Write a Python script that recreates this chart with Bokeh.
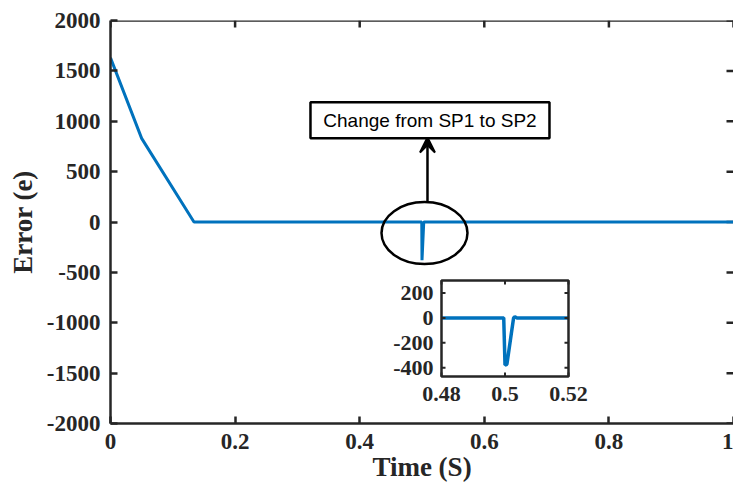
from bokeh.plotting import figure
from bokeh.models import (Range1d, FixedTicker, CustomJSTickFormatter, Arrow, VeeHead)
from bokeh.core.properties import value
from bokeh.embed import file_html
from bokeh.resources import INLINE

# ---- data -------------------------------------------------------------
# error signal of the controller over the whole run
time_s = [0.0, 0.05, 0.134, 0.4996, 0.5, 0.5028, 1.0]
error_e = [1630, 830, 0, 0, -380, 0, 0]

# close-up of the set-point change around t = 0.5 s
zoom_t = [0.48, 0.4996, 0.5, 0.5006, 0.5027, 0.5031, 0.5037, 0.52]
zoom_e = [0, 0, -378, -372, 0, 10, 0, 0]

x_ticks = [0, 0.2, 0.4, 0.6, 0.8, 1]
y_ticks = [-2000, -1500, -1000, -500, 0, 500, 1000, 1500, 2000]
zoom_x_ticks = [0.48, 0.5, 0.52]
zoom_y_ticks = [-400, -200, 0, 200]
zoom_x_lim = (0.48, 0.52)
zoom_y_lim = (-470, 300)

note_text = "Change from SP1 to SP2"

# ---- styling / layout -------------------------------------------------
BLUE = "#0072BD"
AXIS = "#262626"
SERIF = "Liberation Serif"
W, H = 733, 493
FL, FT, FB = 110, 20, 70          # borders: left, top, bottom
FRAME_W = W - FL
FRAME_H = H - FT - FB
X_LIM = (0, 1)
Y_LIM = (-2000, 2000)
# placement of the close-up axes, in page pixels
IN_L, IN_R, IN_T, IN_B = 441, 568, 280, 376

num_fmt = CustomJSTickFormatter(code="return String(Math.round(tick*1000)/1000);")

p = figure(width=W, height=H, x_range=Range1d(*X_LIM), y_range=Range1d(*Y_LIM),
           output_backend="svg", toolbar_location=None,
           min_border_left=FL, min_border_right=0, min_border_top=FT,
           min_border_bottom=FB)
p.outline_line_color = None
p.xgrid.visible = False
p.ygrid.visible = False
p.background_fill_color = "white"
p.border_fill_color = "white"

for ax, ticks in ((p.xaxis[0], x_ticks), (p.yaxis[0], y_ticks)):
    ax.ticker = FixedTicker(ticks=ticks)
    ax.formatter = num_fmt
    ax.major_tick_in = 7
    ax.major_tick_out = 0
    ax.minor_tick_in = 0
    ax.minor_tick_out = 0
    ax.axis_line_width = 2.5
    ax.axis_line_color = AXIS
    ax.major_tick_line_width = 2.5
    ax.major_tick_line_color = AXIS
    ax.major_label_text_font = SERIF
    ax.major_label_text_font_style = "bold"
    ax.major_label_text_font_size = "23px"
    ax.major_label_text_color = AXIS
    ax.axis_label_text_font = SERIF
    ax.axis_label_text_font_style = "bold"
    ax.axis_label_text_font_size = "27px"
    ax.axis_label_text_color = AXIS

p.xaxis.axis_label = "Time (S)"
p.yaxis.axis_label = "Error (e)"
p.xaxis.major_label_standoff = 10
p.xaxis.axis_label_standoff = 0
p.yaxis.major_label_standoff = 10
p.yaxis.axis_label_standoff = 6

# top edge of the box with inward ticks
tick_dy = 7 / FRAME_H * (Y_LIM[1] - Y_LIM[0])
p.segment(x0=[X_LIM[0]], x1=[X_LIM[1]], y0=[Y_LIM[1]], y1=[Y_LIM[1]],
          line_color=AXIS, line_width=2.5)
p.segment(x0=x_ticks, x1=x_ticks, y0=[Y_LIM[1] - tick_dy] * len(x_ticks),
          y1=[Y_LIM[1]] * len(x_ticks), line_color=AXIS, line_width=2.5)

# inward ticks along the right edge of the box
tick_dx = 7 / FRAME_W * (X_LIM[1] - X_LIM[0])
p.segment(x0=[X_LIM[1] - tick_dx] * len(y_ticks), x1=[X_LIM[1]] * len(y_ticks),
          y0=y_ticks, y1=y_ticks, line_color=AXIS, line_width=2.5)

# main error curve
p.line(time_s, error_e, line_color=BLUE, line_width=3)

# annotation: ellipse around the dip, arrow and note box
note_x, note_y = 0.5128, 1010
p.ellipse(x=[0.504], y=[-110], width=86, height=62, width_units="screen",
          height_units="screen", fill_color=None, line_color="black", line_width=2.5)
p.add_layout(Arrow(end=VeeHead(size=15, fill_color="black", line_color="black", line_width=2),
                   x_start=0.5088, y_start=195, x_end=0.5088, y_end=838,
                   line_color="black", line_width=2.5))
p.rect(x=[note_x], y=[note_y], width=239, height=36, width_units="screen",
       height_units="screen", fill_color="white", line_color="black", line_width=2.5)
p.text(x=[note_x], y=[note_y], text=[note_text], text_align="center",
       text_baseline="middle", text_font=value("Liberation Sans"),
       text_font_size="19px", text_color="black")

# ---- close-up axes drawn on extra ranges -------------------------------
sx = (IN_R - IN_L) / (zoom_x_lim[1] - zoom_x_lim[0])
sy = (IN_B - IN_T) / (zoom_y_lim[1] - zoom_y_lim[0])
p.extra_x_ranges = {"ix": Range1d(zoom_x_lim[0] - (IN_L - FL) / sx,
                                  zoom_x_lim[1] + (W - IN_R) / sx)}
p.extra_y_ranges = {"iy": Range1d(zoom_y_lim[0] - (H - FB - IN_B) / sy,
                                  zoom_y_lim[1] + (IN_T - FT) / sy)}
R = dict(x_range_name="ix", y_range_name="iy")

p.quad(left=[zoom_x_lim[0]], right=[zoom_x_lim[1]], bottom=[zoom_y_lim[0]],
       top=[zoom_y_lim[1]], fill_color="white", line_color=None, **R)
p.line(zoom_t, zoom_e, line_color=BLUE, line_width=3.5, **R)

ix_len = 4 / sx
iy_len = 4 / sy
n = len(zoom_y_ticks)
p.segment(x0=[zoom_x_lim[0]] * n, x1=[zoom_x_lim[0] + ix_len] * n,
          y0=zoom_y_ticks, y1=zoom_y_ticks, line_color=AXIS, line_width=2, **R)
p.segment(x0=[zoom_x_lim[1] - ix_len] * n, x1=[zoom_x_lim[1]] * n,
          y0=zoom_y_ticks, y1=zoom_y_ticks, line_color=AXIS, line_width=2, **R)
m = len(zoom_x_ticks)
p.segment(x0=zoom_x_ticks, x1=zoom_x_ticks, y0=[zoom_y_lim[0]] * m,
          y1=[zoom_y_lim[0] + iy_len] * m, line_color=AXIS, line_width=2, **R)
p.segment(x0=zoom_x_ticks, x1=zoom_x_ticks, y0=[zoom_y_lim[1] - iy_len] * m,
          y1=[zoom_y_lim[1]] * m, line_color=AXIS, line_width=2, **R)
p.quad(left=[zoom_x_lim[0]], right=[zoom_x_lim[1]], bottom=[zoom_y_lim[0]],
       top=[zoom_y_lim[1]], fill_color=None, line_color=AXIS, line_width=2.5, **R)

p.text(x=[zoom_x_lim[0]] * n, y=zoom_y_ticks, text=[str(v) for v in zoom_y_ticks],
       x_offset=-8, text_align="right", text_baseline="middle",
       text_font=value(SERIF), text_font_style="bold", text_font_size="22px",
       text_color=AXIS, **R)
p.text(x=zoom_x_ticks, y=[zoom_y_lim[0]] * m, text=[f"{v:g}" for v in zoom_x_ticks],
       y_offset=10, text_align="center", text_baseline="top",
       text_font=value(SERIF), text_font_style="bold", text_font_size="22px",
       text_color=AXIS, **R)

open("out.html", "w").write(file_html(p, INLINE))
